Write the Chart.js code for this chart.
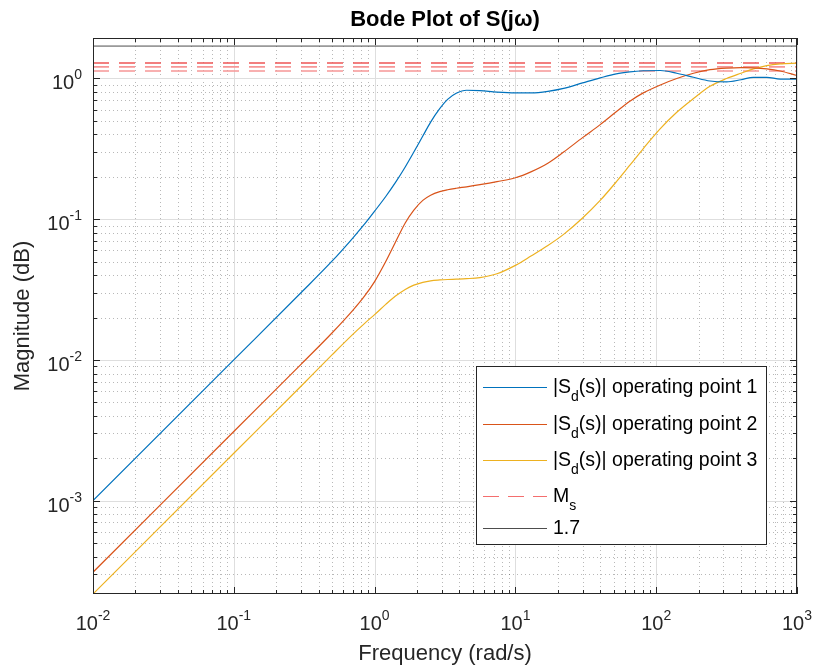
<!DOCTYPE html>
<html>
<head>
<meta charset="utf-8">
<script src="https://cdn.jsdelivr.net/npm/chart.js@4.4.0/dist/chart.umd.min.js"></script>
<style>
  html, body { margin: 0; padding: 0; background: #fff; }
  #wrap { width: 815px; height: 671px; }
</style>
</head>
<body>
<div id="wrap"><canvas id="bode" width="815" height="671"></canvas></div>
<script>
// frequency samples (rad/s) and magnitudes
var freq = [0.01, 0.1, 0.3, 0.5, 0.7, 0.85, 1, 1.2, 1.4, 1.65, 1.9, 2.2, 2.5, 2.9, 3.3, 3.8, 4.5, 5.6, 7.4, 10,
            13, 17, 22, 30, 40, 52, 65, 81, 107, 140, 184, 241, 316, 400, 490, 610, 760, 1000];
var magOp1 = [0.001, 0.01, 0.030, 0.0505, 0.0735, 0.0925, 0.114, 0.145, 0.181, 0.235, 0.30, 0.39, 0.49, 0.61, 0.71, 0.785, 0.825, 0.82, 0.80, 0.79,
              0.79, 0.81, 0.85, 0.93, 1.01, 1.08, 1.115, 1.135, 1.14, 1.09, 1.02, 0.96, 0.945, 0.98, 1.02, 1.02, 0.99, 0.99];
var magOp2 = [0.00031, 0.0031, 0.0093, 0.0156, 0.0225, 0.0285, 0.036, 0.050, 0.068, 0.094, 0.116, 0.136, 0.148, 0.157, 0.162, 0.166, 0.170, 0.176, 0.185, 0.197,
              0.218, 0.25, 0.30, 0.38, 0.47, 0.58, 0.69, 0.79, 0.90, 1.00, 1.09, 1.155, 1.185, 1.195, 1.19, 1.17, 1.13, 1.05];
var magOp3 = [0.000217, 0.00217, 0.0065, 0.0109, 0.0152, 0.0182, 0.0210, 0.0248, 0.0283, 0.0317, 0.0340, 0.0356, 0.0365, 0.0370, 0.0373, 0.0375, 0.0378, 0.0385, 0.041, 0.047,
              0.055, 0.065, 0.078, 0.102, 0.136, 0.184, 0.242, 0.318, 0.44, 0.575, 0.72, 0.88, 1.0, 1.09, 1.17, 1.235, 1.27, 1.285];
var msLevels = [1.13, 1.21, 1.29];
var limitLevel = 1.7;
var seriesNames = ['operating point 1', 'operating point 2', 'operating point 3'];
var xTickExp = [-2, -1, 0, 1, 2, 3];
var yTickExp = [-3, -2, -1, 0];
var xRange = [0.01, 1000];
var yRange = [0.000217, 1.94];

var colors = ['#0072BD', '#D95319', '#EDB120'];
var msColors = ['rgb(246,150,150)', 'rgb(246,150,150)', 'rgb(238,85,85)'];
var FONT = '"Liberation Sans", Arial, Helvetica, sans-serif';

function pts(ys) {
  return freq.map(function (f, i) { return { x: f, y: ys[i] }; });
}
function flat(v) {
  return [{ x: xRange[0], y: v }, { x: xRange[1], y: v }];
}

var datasets = [magOp1, magOp2, magOp3].map(function (m, i) {
  return { data: pts(m), borderColor: colors[i], borderWidth: 1.2, pointRadius: 0,
           cubicInterpolationMode: 'monotone', fill: false };
});
msLevels.forEach(function (v, i) {
  datasets.push({ data: flat(v), borderColor: msColors[i], borderWidth: 1.6, borderDash: [16, 10],
                  pointRadius: 0, fill: false });
});
datasets.push({ data: flat(limitLevel), borderColor: '#4d4d4d', borderWidth: 1, pointRadius: 0, fill: false });

// positions of m*10^k inside [lo, hi]
function decadeVals(lo, hi, mults) {
  var out = [];
  for (var k = Math.floor(Math.log10(lo)); k <= Math.ceil(Math.log10(hi)); k++) {
    mults.forEach(function (m) {
      var v = m * Math.pow(10, k);
      if (v >= lo * 0.9999 && v <= hi * 1.0001) out.push(v);
    });
  }
  return out;
}

function drawPow(ctx, exp, x, y, align) {
  ctx.font = '20px ' + FONT;
  var wb = ctx.measureText('10').width;
  ctx.font = '14px ' + FONT;
  var we = ctx.measureText(String(exp)).width;
  var x0 = align === 'center' ? x - (wb + we) / 2 : x - (wb + we);
  ctx.textAlign = 'left';
  ctx.textBaseline = 'alphabetic';
  ctx.fillStyle = '#262626';
  ctx.font = '20px ' + FONT;
  ctx.fillText('10', x0, y);
  ctx.font = '14px ' + FONT;
  ctx.fillText(String(exp), x0 + wb, y - 10);
}

function seg(ctx, x1, y1, x2, y2) {
  ctx.beginPath(); ctx.moveTo(x1, y1); ctx.lineTo(x2, y2); ctx.stroke();
}

var axesDeco = {
  id: 'axesDeco',
  beforeDatasetsDraw: function (chart) {
    var ctx = chart.ctx, a = chart.chartArea, xs = chart.scales.x, ys = chart.scales.y;
    var minorM = [2, 3, 4, 5, 6, 7, 8, 9];
    ctx.save();
    ctx.lineWidth = 1;
    ctx.strokeStyle = 'rgba(0,0,0,0.28)';
    ctx.setLineDash([1, 3]);
    decadeVals(xs.min, xs.max, minorM).forEach(function (v) {
      var p = Math.round(xs.getPixelForValue(v)) + 0.5;
      seg(ctx, p, a.top, p, a.bottom);
    });
    decadeVals(ys.min, ys.max, minorM).forEach(function (v) {
      var p = Math.round(ys.getPixelForValue(v)) + 0.5;
      seg(ctx, a.left, p, a.right, p);
    });
    ctx.setLineDash([]);
    ctx.strokeStyle = '#dedede';
    xTickExp.forEach(function (e) {
      var p = Math.round(xs.getPixelForValue(Math.pow(10, e))) + 0.5;
      seg(ctx, p, a.top, p, a.bottom);
    });
    yTickExp.forEach(function (e) {
      var p = Math.round(ys.getPixelForValue(Math.pow(10, e))) + 0.5;
      seg(ctx, a.left, p, a.right, p);
    });
    ctx.restore();
  },
  afterDatasetsDraw: function (chart) {
    var ctx = chart.ctx, a = chart.chartArea, xs = chart.scales.x, ys = chart.scales.y;
    var minorM = [2, 3, 4, 5, 6, 7, 8, 9];
    ctx.save();
    ctx.strokeStyle = '#262626';
    ctx.lineWidth = 1;
    ctx.strokeRect(a.left + 0.5, a.top + 0.5, a.right - a.left - 1, a.bottom - a.top - 1);

    // inward ticks on all four sides
    function xt(v, len) {
      var p = Math.round(xs.getPixelForValue(v)) + 0.5;
      seg(ctx, p, a.bottom, p, a.bottom - len);
      seg(ctx, p, a.top, p, a.top + len);
    }
    function yt(v, len) {
      var p = Math.round(ys.getPixelForValue(v)) + 0.5;
      seg(ctx, a.left, p, a.left + len, p);
      seg(ctx, a.right, p, a.right - len, p);
    }
    decadeVals(xs.min, xs.max, minorM).forEach(function (v) { xt(v, 4); });
    decadeVals(ys.min, ys.max, minorM).forEach(function (v) { yt(v, 4); });
    xTickExp.forEach(function (e) { xt(Math.pow(10, e), 7); });
    yTickExp.forEach(function (e) { yt(Math.pow(10, e), 7); });

    // tick labels
    xTickExp.forEach(function (e) {
      drawPow(ctx, e, xs.getPixelForValue(Math.pow(10, e)), a.bottom + 36, 'center');
    });
    yTickExp.forEach(function (e) {
      drawPow(ctx, e, a.left - 11, ys.getPixelForValue(Math.pow(10, e)) + 11, 'right');
    });

    // titles
    ctx.fillStyle = '#000';
    ctx.textAlign = 'center';
    ctx.textBaseline = 'alphabetic';
    ctx.font = 'bold 22px ' + FONT;
    ctx.fillText('Bode Plot of S(j\u03c9)', (a.left + a.right) / 2, 26);
    ctx.fillStyle = '#262626';
    ctx.font = '22px ' + FONT;
    ctx.fillText('Frequency (rad/s)', (a.left + a.right) / 2, 660);
    ctx.save();
    ctx.translate(29, (a.top + a.bottom) / 2);
    ctx.rotate(-Math.PI / 2);
    ctx.fillText('Magnitude (dB)', 0, 0);
    ctx.restore();

    // legend
    var bx = 476, by = 366, bw = 290, bh = 178;
    ctx.fillStyle = '#fff';
    ctx.fillRect(bx, by, bw, bh);
    ctx.strokeStyle = '#262626';
    ctx.lineWidth = 1;
    ctx.strokeRect(bx + 0.5, by + 0.5, bw, bh);
    var rows = [
      { y: 387, color: colors[0], main: '|S', sub: 'd', rest: '(s)| ' + seriesNames[0] },
      { y: 424, color: colors[1], main: '|S', sub: 'd', rest: '(s)| ' + seriesNames[1] },
      { y: 460, color: colors[2], main: '|S', sub: 'd', rest: '(s)| ' + seriesNames[2] },
      { y: 496, color: 'rgb(244,110,110)', dash: [16, 9], main: 'M', sub: 's', rest: '' },
      { y: 528, color: '#4d4d4d', main: String(limitLevel), sub: '', rest: '' }
    ];
    rows.forEach(function (r) {
      ctx.strokeStyle = r.color;
      ctx.lineWidth = 1.2;
      ctx.setLineDash(r.dash || []);
      seg(ctx, 483, r.y + 0.5, 547, r.y + 0.5);
      ctx.setLineDash([]);
      ctx.fillStyle = '#000';
      ctx.textAlign = 'left';
      var x = 553, base = r.y + 6;
      ctx.font = '19.5px ' + FONT;
      ctx.fillText(r.main, x, base);
      x += ctx.measureText(r.main).width;
      if (r.sub) {
        ctx.font = '14px ' + FONT;
        ctx.fillText(r.sub, x, base + 8);
        x += ctx.measureText(r.sub).width;
      }
      ctx.font = '19.5px ' + FONT;
      ctx.fillText(r.rest, x, base);
    });
    ctx.restore();
  }
};

new Chart(document.getElementById('bode'), {
  type: 'line',
  data: { datasets: datasets },
  options: {
    responsive: false,
    animation: false,
    layout: { padding: { top: 38, right: 18, left: 0, bottom: 0 } },
    plugins: { legend: { display: false }, title: { display: false }, tooltip: { enabled: false } },
    scales: {
      x: {
        type: 'logarithmic', min: xRange[0], max: xRange[1],
        grid: { display: false }, border: { display: false }, ticks: { display: false },
        afterFit: function (s) { s.height = 77; }
      },
      y: {
        type: 'logarithmic', min: yRange[0], max: yRange[1],
        grid: { display: false }, border: { display: false }, ticks: { display: false },
        afterFit: function (s) { s.width = 93; }
      }
    }
  },
  plugins: [axesDeco]
});
</script>
</body>
</html>
